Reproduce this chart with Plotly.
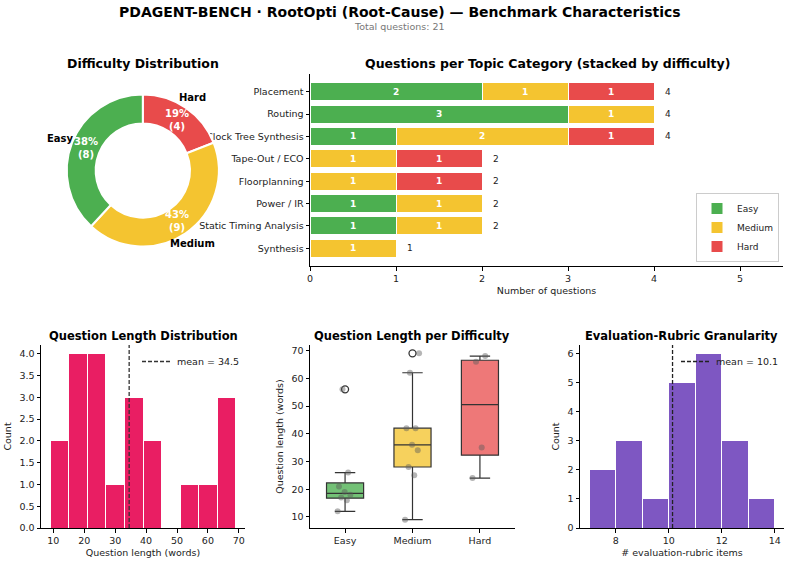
import numpy as np
import plotly.graph_objects as go

W, H = 791, 564
FONT = "DejaVu Sans"

# ---------------- data ----------------
difficulties = ["Easy", "Medium", "Hard"]
diff_counts = [8, 9, 4]
diff_colors = ["#4CAF50", "#F4C430", "#E84B4B"]
box_fill = ["rgba(76,175,80,0.78)", "rgba(244,196,48,0.78)", "rgba(232,75,75,0.75)"]

topics = ["Placement", "Routing", "Clock Tree Synthesis", "Tape-Out / ECO",
          "Floorplanning", "Power / IR", "Static Timing Analysis", "Synthesis"]
topic_easy = [2, 3, 1, 0, 0, 1, 1, 0]
topic_medium = [1, 1, 2, 1, 1, 1, 1, 1]
topic_hard = [1, 0, 1, 1, 1, 0, 0, 0]

len_easy = [12, 16, 17, 18, 19, 21, 26, 56]
len_medium = [9, 25, 28, 34, 36, 42, 42, 62, 69]
len_hard = [24, 35, 66, 68]

rubric_items = [7, 7, 8, 8, 8, 9, 10, 10, 10, 10, 10,
                11, 11, 11, 11, 11, 11, 12, 12, 12, 14]

total_q = sum(diff_counts)


def px(x):
    return x / W


def py(y):
    return 1 - y / H


fig = go.Figure()
ann = []

# ---------------- donut ----------------
# Easy starts at 12 o'clock and runs counter-clockwise; drawn clockwise in reverse order
cx, cy, R = 142.8, 170.5, 76
fig.add_trace(go.Pie(
    values=diff_counts[::-1], labels=difficulties[::-1], hole=0.62, sort=False,
    direction="clockwise", rotation=0,
    marker=dict(colors=diff_colors[::-1], line=dict(color="white", width=2)),
    textinfo="none", hoverinfo="label+value", showlegend=False,
    domain=dict(x=[px(cx - R), px(cx + R)], y=[py(cy + R), py(cy - R)]),
))
cum = 0
for lab, v in zip(difficulties, diff_counts):
    mid = np.deg2rad(90 + 360 * (cum + v / 2) / total_q)
    cum += v
    r1 = 0.80 * R
    ann.append(dict(x=px(cx + r1 * np.cos(mid)), y=py(cy - r1 * np.sin(mid)),
                    xref="paper", yref="paper", showarrow=False,
                    text=f"{100 * v / total_q:.0f}%<br>({v})",
                    font=dict(family=FONT, size=10, color="white", weight="bold"),
                    xanchor="center", yanchor="middle"))
    r2 = 1.16 * R
    ann.append(dict(x=px(cx + r2 * np.cos(mid)), y=py(cy - r2 * np.sin(mid)),
                    xref="paper", yref="paper", showarrow=False, text=lab,
                    font=dict(family=FONT, size=10, color="black", weight="bold"),
                    xanchor="center", yanchor="middle"))

# ---------------- stacked bars ----------------
for name, vals, col in zip(difficulties, [topic_easy, topic_medium, topic_hard], diff_colors):
    fig.add_trace(go.Bar(
        y=topics, x=vals, orientation="h", name=name, width=0.8,
        marker=dict(color=col, line=dict(color="white", width=1)),
        text=[str(v) if v else "" for v in vals], textposition="inside",
        insidetextanchor="middle", textangle=0, constraintext="none",
        textfont=dict(family=FONT, size=9, color="white", weight="bold"),
        xaxis="x", yaxis="y", legend="legend",
    ))
totals = [a + b + c for a, b, c in zip(topic_easy, topic_medium, topic_hard)]
for t, tot in zip(topics, totals):
    ann.append(dict(x=tot + 0.11, y=t, xref="x", yref="y", showarrow=False,
                    text=str(tot), xanchor="left", yanchor="middle",
                    font=dict(family=FONT, size=9, color="#222")))

# ---------------- question length histogram ----------------
all_len = np.array(len_easy + len_medium + len_hard)
cnt, edges = np.histogram(all_len, bins=10)
fig.add_trace(go.Bar(
    x=(edges[:-1] + edges[1:]) / 2, y=cnt, width=np.diff(edges),
    marker=dict(color="#E91E63", line=dict(color="white", width=1)),
    showlegend=False, xaxis="x2", yaxis="y2", hoverinfo="x+y",
))
m1 = all_len.mean()
fig.add_trace(go.Scatter(
    x=[m1, m1], y=[0, 4.2], mode="lines", name=f"mean = {m1:.1f}",
    line=dict(color="#333", width=1.3, dash="4px,2px"),
    xaxis="x2", yaxis="y2", legend="legend2",
))

# ---------------- box plot ----------------
for i, (vals, fc) in enumerate(zip([len_easy, len_medium, len_hard], box_fill)):
    a = np.array(vals, dtype=float)
    q1, med, q3 = np.percentile(a, [25, 50, 75])
    iqr = q3 - q1
    lo = a[a >= q1 - 1.5 * iqr].min()
    hi = a[a <= q3 + 1.5 * iqr].max()
    fig.add_trace(go.Box(
        x=[i], q1=[q1], median=[med], q3=[q3], lowerfence=[lo], upperfence=[hi],
        width=0.55, fillcolor=fc, line=dict(color="#333", width=1.2),
        whiskerwidth=0.55, boxpoints=False, showlegend=False,
        xaxis="x3", yaxis="y3",
    ))
    out = a[(a < q1 - 1.5 * iqr) | (a > q3 + 1.5 * iqr)]
    if len(out):
        fig.add_trace(go.Scatter(
            x=[i] * len(out), y=out, mode="markers", showlegend=False,
            marker=dict(symbol="circle-open", size=7, color="#333", line=dict(width=1.3)),
            xaxis="x3", yaxis="y3",
        ))
    offs = ((np.arange(len(a)) * 0.618) % 1 - 0.5) * 0.22
    fig.add_trace(go.Scatter(
        x=i + offs, y=a, mode="markers", showlegend=False,
        marker=dict(size=6, color="rgba(90,90,90,0.45)"),
        xaxis="x3", yaxis="y3",
    ))

# ---------------- rubric histogram ----------------
rub = np.array(rubric_items)
cnt2, edges2 = np.histogram(rub, bins=7)
fig.add_trace(go.Bar(
    x=(edges2[:-1] + edges2[1:]) / 2, y=cnt2, width=np.diff(edges2),
    marker=dict(color="#7E57C2", line=dict(color="white", width=1)),
    showlegend=False, xaxis="x4", yaxis="y4", hoverinfo="x+y",
))
m2 = rub.mean()
fig.add_trace(go.Scatter(
    x=[m2, m2], y=[0, 6.3], mode="lines", name=f"mean = {m2:.1f}",
    line=dict(color="#222", width=1.3, dash="4px,2px"),
    xaxis="x4", yaxis="y4", legend="legend3",
))

# ---------------- titles ----------------
def title(text, x, y, size=11.5):
    ann.append(dict(x=px(x), y=py(y), xref="paper", yref="paper", showarrow=False,
                    text=text, xanchor="center", yanchor="middle",
                    font=dict(family=FONT, size=size, color="black", weight="bold")))


title("PDAGENT-BENCH · RootOpti (Root-Cause) — Benchmark Characteristics", 400, 12, 14)
ann.append(dict(x=px(400), y=py(27), xref="paper", yref="paper", showarrow=False,
                text=f"Total questions: {total_q}", xanchor="center", yanchor="middle",
                font=dict(family=FONT, size=9.5, color="#777")))
title("Difficulty Distribution", 142.5, 64, 12.5)
title("Questions per Topic Category (stacked by difficulty)", 547, 64, 12.5)
title("Question Length Distribution", 143, 336)
title("Question Length per Difficulty", 412, 336)
title("Evaluation-Rubric Granularity", 681, 336)

tick_font = dict(family=FONT, size=9.5, color="#222")
ax_common = dict(showline=True, linecolor="black", linewidth=1, ticks="outside",
                 ticklen=3.5, tickcolor="black", showgrid=False, zeroline=False,
                 automargin=False,
                 tickfont=tick_font, title_font=dict(family=FONT, size=9.5, color="#222"))

bot_y = [py(528), py(345)]
fig.update_layout(
    width=W, height=H, margin=dict(l=0, r=0, t=0, b=0, pad=0, autoexpand=False),
    paper_bgcolor="white", plot_bgcolor="white",
    font=dict(family=FONT, size=9.5, color="#222"),
    barmode="stack", annotations=ann,
    xaxis=dict(domain=[px(310), px(783)], anchor="y", range=[0, 5.5], dtick=1,
               title=dict(text="Number of questions", standoff=4), **ax_common),
    yaxis=dict(domain=[py(266), py(74)], anchor="x", type="category",
               categoryorder="array", categoryarray=topics, range=[7.79, -0.79],
               **ax_common),
    xaxis2=dict(domain=[px(41), px(245)], anchor="y2", range=[6, 72], dtick=10,
                title=dict(text="Question length (words)", standoff=4), **ax_common),
    yaxis2=dict(domain=bot_y, anchor="x2", range=[0, 4.2], dtick=0.5, tickformat=".1f",
                title=dict(text="Count", standoff=6), **ax_common),
    xaxis3=dict(domain=[px(310), px(515)], anchor="y3", range=[-0.52, 2.52],
                tickvals=[0, 1, 2], ticktext=difficulties, **ax_common),
    yaxis3=dict(domain=bot_y, anchor="x3", range=[6, 72], dtick=10,
                title=dict(text="Question length (words)", standoff=6), **ax_common),
    xaxis4=dict(domain=[px(580), px(784)], anchor="y4", range=[6.65, 14.35], dtick=2,
                title=dict(text="# evaluation-rubric items", standoff=4), **ax_common),
    yaxis4=dict(domain=bot_y, anchor="x4", range=[0, 6.3], dtick=1,
                title=dict(text="Count", standoff=6), **ax_common),
    legend=dict(x=px(779), y=py(262), xanchor="right", yanchor="bottom",
                traceorder="normal", bgcolor="white", bordercolor="#ccc", borderwidth=1,
                font=dict(family=FONT, size=9, color="#222"), tracegroupgap=0,
                itemwidth=30),
    legend2=dict(x=px(245), y=py(347), xanchor="right", yanchor="top",
                 bgcolor="rgba(0,0,0,0)", font=dict(family=FONT, size=9.5, color="#222")),
    legend3=dict(x=px(784), y=py(347), xanchor="right", yanchor="top",
                 bgcolor="rgba(0,0,0,0)", font=dict(family=FONT, size=9.5, color="#222")),
)

fig.write_html("out.html")
